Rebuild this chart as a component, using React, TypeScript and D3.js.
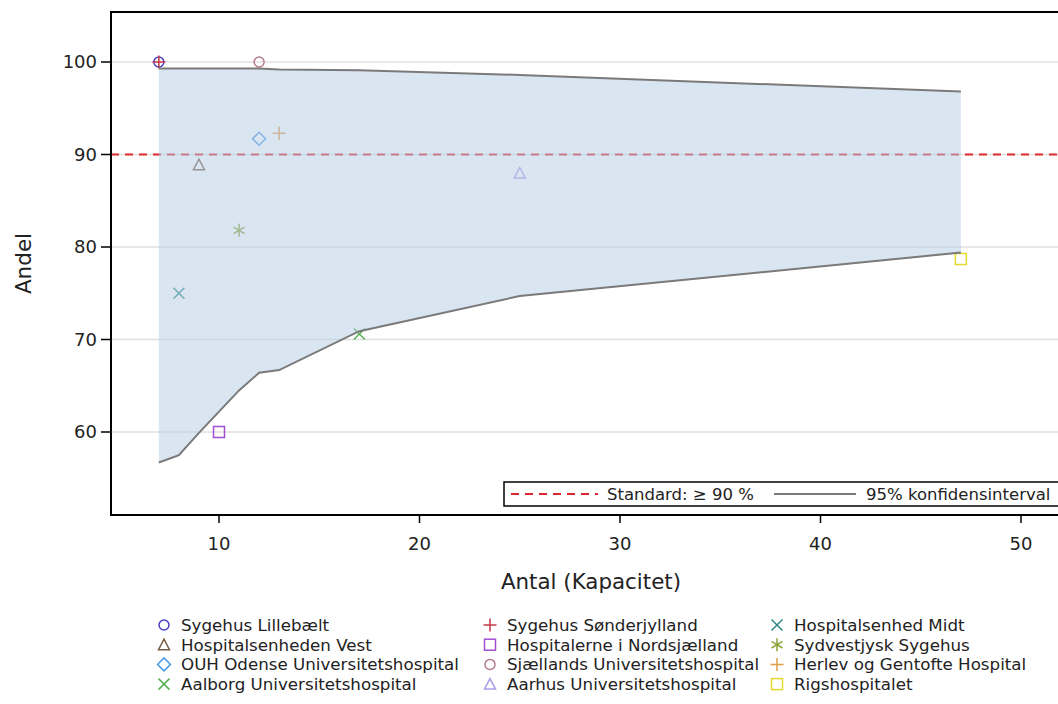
import { useEffect } from "react";
import { scaleLinear, area, line } from "d3";

// hospitals, in legend order (column by column)
const hospitals = [
  "Sygehus Lillebælt",
  "Hospitalsenheden Vest",
  "OUH Odense Universitetshospital",
  "Aalborg Universitetshospital",
  "Sygehus Sønderjylland",
  "Hospitalerne i Nordsjælland",
  "Sjællands Universitetshospital",
  "Aarhus Universitetshospital",
  "Hospitalsenhed Midt",
  "Sydvestjysk Sygehus",
  "Herlev og Gentofte Hospital",
  "Rigshospitalet",
];
const antal = [7, 9, 12, 17, 7, 10, 12, 25, 8, 11, 13, 47];
const andel = [100, 88.9, 91.7, 70.6, 100, 60, 100, 88, 75, 81.8, 92.3, 78.7];
const shapes = ["circle", "triangle", "diamond", "x", "plus", "square", "circle", "triangle", "x", "star", "plus", "square"];
const colors = [
  "#4a3fc2", "#7a5f45", "#4f9be6", "#55b04f", "#c23a4a", "#a24fd6",
  "#b67d8c", "#a6a0e6", "#2f8a86", "#8ea53c", "#e29d48", "#e6d92e",
];

// 95% konfidensinterval
const ciX = [7, 8, 9, 10, 11, 12, 13, 17, 25, 47];
const ciLow = [56.7, 57.5, 59.9, 62.2, 64.5, 66.4, 66.7, 70.9, 74.7, 79.4];
const ciHigh = [99.3, 99.3, 99.3, 99.3, 99.3, 99.3, 99.2, 99.1, 98.6, 96.8];

const xTicks = [10, 20, 30, 40, 50];
const yTicks = [60, 70, 80, 90, 100];
const standard = 90;

const FONT = "'DejaVu Sans', sans-serif";

function Marker({ shape, x, y, color }: { shape: string; x: number; y: number; color: string }) {
  const s = 5.5;
  const common = { fill: "none", stroke: color, strokeWidth: 1.5 };
  if (shape === "circle") return <circle cx={x} cy={y} r={s - 0.5} {...common} />;
  if (shape === "square") return <rect x={x - s} y={y - s} width={2 * s} height={2 * s} {...common} />;
  if (shape === "diamond")
    return <path d={`M${x},${y - s - 1}L${x + s + 1},${y}L${x},${y + s + 1}L${x - s - 1},${y}Z`} {...common} />;
  if (shape === "triangle")
    return <path d={`M${x},${y - s}L${x + s},${y + s - 0.5}L${x - s},${y + s - 0.5}Z`} {...common} />;
  if (shape === "x")
    return <path d={`M${x - s},${y - s}L${x + s},${y + s}M${x - s},${y + s}L${x + s},${y - s}`} {...common} />;
  if (shape === "plus")
    return <path d={`M${x - s - 1},${y}L${x + s + 1},${y}M${x},${y - s - 1}L${x},${y + s + 1}`} {...common} />;
  // star / asterisk
  return (
    <path
      d={`M${x},${y - s - 1}L${x},${y + s + 1}M${x - s},${y - s * 0.6}L${x + s},${y + s * 0.6}M${x - s},${y + s * 0.6}L${x + s},${y - s * 0.6}`}
      {...common}
    />
  );
}

export default function App() {
  useEffect(() => {
    document.body.style.margin = "0";
  }, []);

  const left = 111;
  const top = 12;
  const bottom = 515;
  const right = 1070;

  const x = scaleLinear().domain([10, 50]).range([219, 1021]);
  const y = scaleLinear().domain([60, 100]).range([432, 62]);

  const band = area<number>()
    .x((d, i) => x(ciX[i]))
    .y0((d, i) => y(ciLow[i]))
    .y1((d) => y(d));
  const ciLine = line<number>().x((d, i) => x(ciX[i])).y((d) => y(d));

  const legendRows = 4;
  const colX = [164, 490, 777];

  return (
    <svg width={1058} height={704} style={{ display: "block", fontFamily: FONT }}>
      <rect width={1058} height={704} fill="#fff" />
      <defs>
        <clipPath id="plot">
          <rect x={left} y={top} width={right - left} height={bottom - top} />
        </clipPath>
      </defs>

      <g clipPath="url(#plot)">
        {yTicks.map((t) => (
          <line key={t} x1={left} x2={right} y1={y(t)} y2={y(t)} stroke="#e0e0e0" strokeWidth={1.5} />
        ))}
        <line
          x1={left}
          x2={right}
          y1={y(standard)}
          y2={y(standard)}
          stroke="#dc2a30"
          strokeWidth={2.2}
          strokeDasharray="8 6"
        />
        {hospitals.map((h, i) => (
          <Marker key={h} shape={shapes[i]} x={x(antal[i])} y={y(andel[i])} color={colors[i]} />
        ))}
        <path d={band(ciHigh) ?? ""} fill="#b6cbe6" fillOpacity={0.5} />
        <path d={ciLine(ciLow) ?? ""} fill="none" stroke="#7a7a7a" strokeWidth={2} />
        <path d={ciLine(ciHigh) ?? ""} fill="none" stroke="#7a7a7a" strokeWidth={2} />
      </g>

      {/* frame */}
      <path d={`M${right},${top}H${left}V${bottom}H${right}`} fill="none" stroke="#000" strokeWidth={2} />

      {/* y axis */}
      {yTicks.map((t) => (
        <g key={t}>
          <line x1={left - 10} x2={left} y1={y(t)} y2={y(t)} stroke="#000" strokeWidth={1.5} />
          <text x={left - 14} y={y(t)} dy="0.36em" textAnchor="end" fontSize={18} fill="#222">
            {t}
          </text>
        </g>
      ))}
      <text
        transform={`translate(31,${(top + bottom) / 2}) rotate(-90)`}
        textAnchor="middle"
        fontSize={21.5}
        fill="#222"
      >
        Andel
      </text>

      {/* x axis */}
      {xTicks.map((t) => (
        <g key={t}>
          <line x1={x(t)} x2={x(t)} y1={bottom} y2={bottom + 8} stroke="#000" strokeWidth={1.5} />
          <text x={x(t)} y={bottom + 35} textAnchor="middle" fontSize={18} fill="#222">
            {t}
          </text>
        </g>
      ))}
      <text x={591} y={589} textAnchor="middle" fontSize={21.4} fill="#222">
        Antal (Kapacitet)
      </text>

      {/* inner legend */}
      <rect x={504} y={482} width={560} height={24} fill="#fff" stroke="#000" strokeWidth={1.5} />
      <line x1={511} x2={598} y1={494} y2={494} stroke="#dc2a30" strokeWidth={2} strokeDasharray="8 6" />
      <text x={607} y={494} dy="0.36em" fontSize={16.5} fill="#222">
        Standard: ≥ 90 %
      </text>
      <line x1={774} x2={856} y1={494} y2={494} stroke="#7a7a7a" strokeWidth={2} />
      <text x={866} y={494} dy="0.36em" fontSize={16.5} fill="#222">
        95% konfidensinterval
      </text>

      {/* bottom legend */}
      {hospitals.map((h, i) => {
        const cx = colX[Math.floor(i / legendRows)];
        const cy = 625 + (i % legendRows) * 19.7;
        return (
          <g key={h}>
            <Marker shape={shapes[i]} x={cx} y={cy} color={colors[i]} />
            <text x={cx + 17} y={cy} dy="0.36em" fontSize={16.7} fill="#222">
              {h}
            </text>
          </g>
        );
      })}
    </svg>
  );
}
